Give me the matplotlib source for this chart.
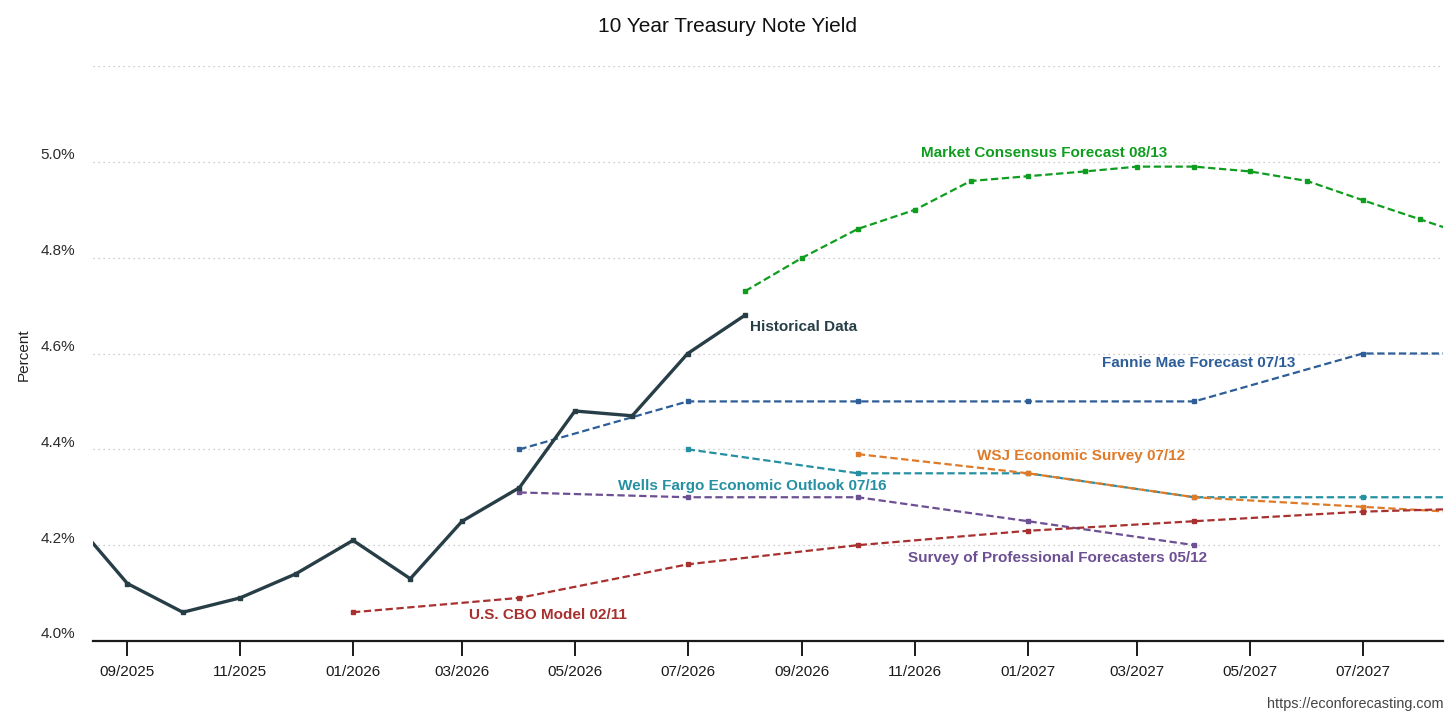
import matplotlib
matplotlib.use("Agg")
import matplotlib.pyplot as plt
import matplotlib.dates as mdates
import matplotlib.transforms as mtransforms
import pandas as pd

plt.rcParams['font.family'] = ['Liberation Sans', 'DejaVu Sans']

# ---------------- data ----------------
hist_dates = ["2025-08-01", "2025-09-01", "2025-10-01", "2025-11-01", "2025-12-01",
              "2026-01-01", "2026-02-01", "2026-03-01", "2026-04-01", "2026-05-01",
              "2026-06-01", "2026-07-01", "2026-08-01"]
hist_vals = [4.26, 4.12, 4.06, 4.09, 4.14, 4.21, 4.13, 4.25, 4.32, 4.48, 4.47, 4.60, 4.68]

mc_dates = ["2026-08-01", "2026-09-01", "2026-10-01", "2026-11-01", "2026-12-01",
            "2027-01-01", "2027-02-01", "2027-03-01", "2027-04-01", "2027-05-01",
            "2027-06-01", "2027-07-01", "2027-08-01", "2027-09-01"]
mc_vals = [4.73, 4.80, 4.86, 4.90, 4.96, 4.97, 4.98, 4.99, 4.99, 4.98, 4.96, 4.92, 4.88, 4.84]

fannie_dates = ["2026-04-01", "2026-07-01", "2026-10-01", "2027-01-01", "2027-04-01",
                "2027-07-01", "2027-10-01"]
fannie_vals = [4.40, 4.50, 4.50, 4.50, 4.50, 4.60, 4.60]

wells_dates = ["2026-07-01", "2026-10-01", "2027-01-01", "2027-04-01", "2027-07-01", "2027-10-01"]
wells_vals = [4.40, 4.35, 4.35, 4.30, 4.30, 4.30]

wsj_dates = ["2026-10-01", "2027-01-01", "2027-04-01", "2027-07-01", "2027-10-01"]
wsj_vals = [4.39, 4.35, 4.30, 4.28, 4.26]

spf_dates = ["2026-04-01", "2026-07-01", "2026-10-01", "2027-01-01", "2027-04-01"]
spf_vals = [4.31, 4.30, 4.30, 4.25, 4.20]

cbo_dates = ["2026-01-01", "2026-04-01", "2026-07-01", "2026-10-01", "2027-01-01",
             "2027-04-01", "2027-07-01", "2027-10-01"]
cbo_vals = [4.06, 4.09, 4.16, 4.20, 4.23, 4.25, 4.27, 4.28]

series_names = ["Market Consensus Forecast 08/13", "Fannie Mae Forecast 07/13",
                "Wells Fargo Economic Outlook 07/16", "WSJ Economic Survey 07/12",
                "Survey of Professional Forecasters 05/12", "U.S. CBO Model 02/11"]

y_ticks = [4.0, 4.2, 4.4, 4.6, 4.8, 5.0]
y_tick_labels = ["4.0%", "4.2%", "4.4%", "4.6%", "4.8%", "5.0%"]

# ---------------- styling ----------------
W, H = 1456, 728
fig = plt.figure(figsize=(W / 100, H / 100), dpi=100)
L, R, T, B = 93, 1443, 66, 641
ax = fig.add_axes([L / W, (H - B) / H, (R - L) / W, (B - T) / H])

c_hist = '#283e47'
colors = {
    series_names[0]: '#0f9d1f',
    series_names[1]: '#2d5e98',
    series_names[2]: '#2590a2',
    series_names[3]: '#df7a29',
    series_names[4]: '#6d4f94',
    series_names[5]: '#a8302f',
}

def dt(lst):
    return pd.to_datetime(lst)

dash = (0, (3.3, 1.6))
fc_kw = dict(lw=1.6, linestyle=dash, marker='s', markersize=3.2, clip_on=True)

ax.plot(dt(mc_dates), mc_vals, color=colors[series_names[0]], **fc_kw)
ax.plot(dt(fannie_dates), fannie_vals, color=colors[series_names[1]], **fc_kw)
ax.plot(dt(wells_dates), wells_vals, color=colors[series_names[2]], **fc_kw)
ax.plot(dt(wsj_dates), wsj_vals, color=colors[series_names[3]], **fc_kw)
ax.plot(dt(spf_dates), spf_vals, color=colors[series_names[4]], **fc_kw)
ax.plot(dt(cbo_dates), cbo_vals, color=colors[series_names[5]], **fc_kw)
ax.plot(dt(hist_dates), hist_vals, color=c_hist, lw=2.4, marker='s', markersize=3.2,
        solid_joinstyle='miter', zorder=5)

ax.set_xlim(pd.Timestamp("2025-08-13 10:00"), pd.Timestamp("2027-08-13 10:00"))
ax.set_ylim(4.0, 5.2)

# y axis
ax.set_yticks(y_ticks)
ax.set_yticklabels(y_tick_labels)
ax.yaxis.grid(True, color='#bdbdbd', linestyle=(0, (1, 3)), linewidth=0.9)
ax.axhline(5.2, color='#bdbdbd', linestyle=(0, (1, 3)), linewidth=0.9)
ax.tick_params(axis='y', length=0, pad=13, labelsize=11, labelcolor='#2b2b2b')
offset = mtransforms.ScaledTranslation(0, 8 / 100, fig.dpi_scale_trans)
for lab in ax.get_yticklabels():
    lab.set_transform(lab.get_transform() + offset)

# x axis
ax.xaxis.set_major_locator(mdates.MonthLocator(bymonth=[1, 3, 5, 7, 9, 11]))
ax.xaxis.set_major_formatter(mdates.DateFormatter('%m/%Y'))
ax.tick_params(axis='x', length=11, width=1.4, color='#1a1a1a', direction='out',
               pad=6, labelsize=11, labelcolor='#1a1a1a')

for s in ['top', 'right', 'left']:
    ax.spines[s].set_visible(False)
ax.spines['bottom'].set_linewidth(1.6)
ax.spines['bottom'].set_color('#1a1a1a')

# labels
fig.text(728 / W, 1 - 26 / H, "10 Year Treasury Note Yield", ha='center', va='center',
         fontsize=15, color='#111111')
fig.text(24 / W, 1 - 355 / H, "Percent", rotation=90, ha='center', va='center',
         fontsize=11, color='#222222')
fig.text(1443 / W, 1 - 704 / H, "https://econforecasting.com", ha='right', va='center',
         fontsize=10.4, color='#444444')

def axpos(px, py):
    return ((px - L) / (R - L), (B - py) / (B - T))

label_spots = [
    (series_names[0], 1044, 153, 'center'),
    (series_names[1], 1199, 363, 'center'),
    (series_names[2], 752, 486, 'center'),
    (series_names[3], 1081, 456, 'center'),
    (series_names[4], 1058, 558, 'center'),
    (series_names[5], 548, 615, 'center'),
]
for name, px, py, ha in label_spots:
    x, y = axpos(px, py)
    ax.text(x, y, name, transform=ax.transAxes, ha=ha, va='center', fontsize=11,
            fontweight='bold', color=colors[name])
x, y = axpos(750, 327)
ax.text(x, y, "Historical Data", transform=ax.transAxes, ha='left', va='center',
        fontsize=11, fontweight='bold', color=c_hist)

fig.savefig("out.png", dpi=100)
